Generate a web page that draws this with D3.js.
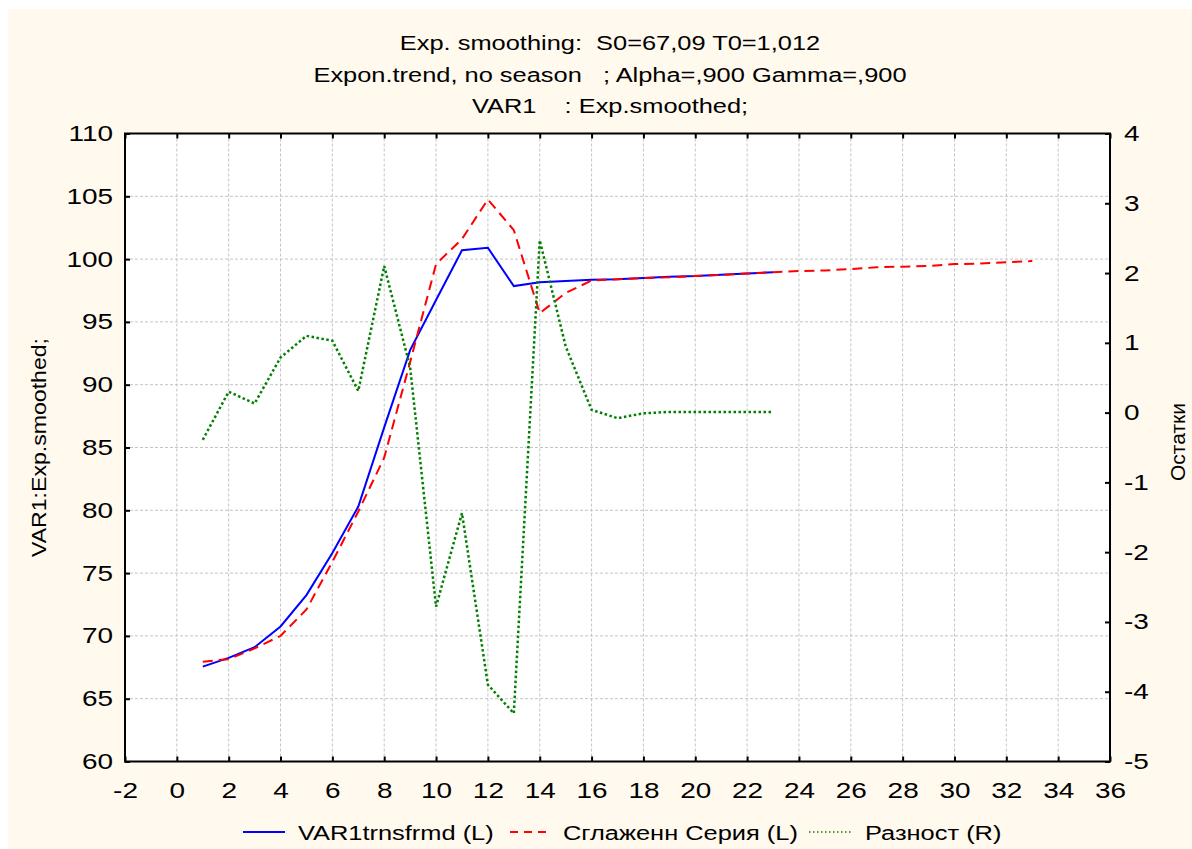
<!DOCTYPE html>
<html>
<head>
<meta charset="utf-8">
<script src="https://cdn.jsdelivr.net/npm/d3@7"></script>
<style>
  body { margin: 0; background: #fff; }
  text { font-family: "Liberation Sans", Arial, sans-serif; fill: #000; white-space: pre; }
</style>
</head>
<body>
<div id="chart"></div>
<script>
/* global d3 */

var titleLines = [
  "Exp. smoothing:  S0=67,09 T0=1,012",
  "Expon.trend, no season   ; Alpha=,900 Gamma=,900",
  "VAR1    : Exp.smoothed;"
];
var leftTitle = "VAR1:Exp.smoothed;";
var rightTitle = "Остатки";
var seriesNames = ["VAR1trnsfrmd (L)", "Сглаженн Серия (L)", "Разност (R)"];

var steps = [1, 2, 3, 4, 5, 6, 7, 8, 9, 10, 11, 12, 13, 14, 15, 16, 17,
  18, 19, 20, 21, 22, 23, 24, 25, 26, 27, 28, 29, 30, 31, 32, 33];

/* VAR1trnsfrmd, left axis, steps 1..23 */
var var1Trnsfrmd = [67.55, 68.25, 69.1, 70.75, 73.25, 76.6, 80.3, 86.6, 92.75,
  96.75, 100.7, 100.9, 97.85, 98.15, 98.25, 98.35, 98.4, 98.5, 98.6, 98.65,
  98.75, 98.85, 98.95];

/* smoothed series, left axis, steps 1..33 */
var smoothed = [67.95, 68.15, 69.0, 70.0, 72.1, 75.9, 79.9, 84.2, 91.8, 99.6,
  101.6, 104.75, 102.3, 95.7, 97.3, 98.3, 98.4, 98.5, 98.55, 98.65, 98.75,
  98.85, 98.95, 99.05, 99.1, 99.2, 99.35, 99.4, 99.45, 99.6, 99.65, 99.75, 99.85];

/* residuals, right axis, steps 1..23 */
var residuals = [-0.39, 0.30, 0.13, 0.79, 1.10, 1.03, 0.31, 2.10, 0.65, -2.78,
  -1.44, -3.90, -4.31, 2.47, 0.95, 0.04, -0.08, -0.01, 0.01, 0.01, 0.01, 0.01, 0.01];

var xTickValues = [-2, 0, 2, 4, 6, 8, 10, 12, 14, 16, 18, 20, 22, 24, 26, 28, 30, 32, 34, 36];
var leftTickValues = [60, 65, 70, 75, 80, 85, 90, 95, 100, 105, 110];
var rightTickValues = [-5, -4, -3, -2, -1, 0, 1, 2, 3, 4];

var W = 1192, H = 849;
var plot = { left: 125, top: 133.5, right: 1110, bottom: 761.5 };
var SX = 1.27; // horizontal stretch of the original font

/* plain hyphen minus, like the original */
var fmt = function(d) { return String(d); };

var svg = d3.select("#chart").append("svg")
  .attr("width", W)
  .attr("height", H);

/* cream page */
svg.append("rect")
  .attr("x", 8).attr("y", 9)
  .attr("width", W - 8).attr("height", H - 9)
  .attr("fill", "#fff9ee");

var x = d3.scaleLinear().domain([-2, 36]).range([plot.left, plot.right]);
var yL = d3.scaleLinear().domain([60, 110]).range([plot.bottom, plot.top]);
var yR = d3.scaleLinear().domain([-5, 4]).range([plot.bottom, plot.top]);

/* plot background */
svg.append("rect")
  .attr("x", plot.left).attr("y", plot.top)
  .attr("width", plot.right - plot.left).attr("height", plot.bottom - plot.top)
  .attr("fill", "#fff");

/* grid */
var grid = svg.append("g")
  .attr("stroke", "#c4c4c4")
  .attr("stroke-width", 1)
  .attr("stroke-dasharray", "3,2");

grid.selectAll(".vg")
  .data(xTickValues.slice(1, -1))
  .enter().append("line")
  .attr("x1", function(d) { return x(d); })
  .attr("x2", function(d) { return x(d); })
  .attr("y1", plot.top).attr("y2", plot.bottom);

grid.selectAll(".hg")
  .data(leftTickValues.slice(1, -1))
  .enter().append("line")
  .attr("y1", function(d) { return yL(d); })
  .attr("y2", function(d) { return yL(d); })
  .attr("x1", plot.left).attr("x2", plot.right);

/* series */
var blueData = var1Trnsfrmd.map(function(v, i) { return [steps[i], v]; });
var redData = smoothed.map(function(v, i) { return [steps[i], v]; });
var greenData = residuals.map(function(v, i) { return [steps[i], v]; });

var lineL = d3.line()
  .x(function(d) { return x(d[0]); })
  .y(function(d) { return yL(d[1]); });
var lineR = d3.line()
  .x(function(d) { return x(d[0]); })
  .y(function(d) { return yR(d[1]); });

svg.append("path")
  .attr("d", lineL(blueData))
  .attr("fill", "none")
  .attr("stroke", "#0000ff")
  .attr("stroke-width", 2);

svg.append("path")
  .attr("d", lineL(redData))
  .attr("fill", "none")
  .attr("stroke", "#ff0000")
  .attr("stroke-width", 2)
  .attr("stroke-dasharray", "10,6");

svg.append("path")
  .attr("d", lineR(greenData))
  .attr("fill", "none")
  .attr("stroke", "#008000")
  .attr("stroke-width", 2.5)
  .attr("stroke-dasharray", "2.5,2.5");

/* axes */
function styleAxis(g) {
  g.select(".domain").remove();
  g.selectAll(".tick line").attr("stroke", "#000").attr("stroke-width", 2);
  g.selectAll(".tick text")
    .style("font-size", "22px")
    .attr("fill", "#000")
    .attr("transform", "scale(" + SX + ",1)");
}

svg.append("g")
  .attr("transform", "translate(0," + plot.bottom + ")")
  .call(d3.axisBottom(x).tickValues(xTickValues).tickSizeInner(-5).tickSizeOuter(0)
    .tickPadding(21).tickFormat(fmt))
  .call(styleAxis);

svg.append("g")
  .attr("transform", "translate(0," + plot.top + ")")
  .call(d3.axisTop(x).tickValues(xTickValues).tickSizeInner(-5).tickSizeOuter(0)
    .tickFormat(""))
  .call(styleAxis);

svg.append("g")
  .attr("transform", "translate(" + plot.left + ",0)")
  .call(d3.axisLeft(yL).tickValues(leftTickValues).tickSizeInner(-5).tickSizeOuter(0)
    .tickPadding(12 / SX).tickFormat(fmt))
  .call(styleAxis);

svg.append("g")
  .attr("transform", "translate(" + plot.right + ",0)")
  .call(d3.axisRight(yR).tickValues(rightTickValues).tickSizeInner(-5).tickSizeOuter(0)
    .tickPadding(14 / SX).tickFormat(fmt))
  .call(styleAxis);

/* frame */
svg.append("rect")
  .attr("x", plot.left).attr("y", plot.top)
  .attr("width", plot.right - plot.left).attr("height", plot.bottom - plot.top)
  .attr("fill", "none")
  .attr("stroke", "#000")
  .attr("stroke-width", 2);

/* title */
var titleBaselines = [50, 82, 113];
svg.selectAll(".title")
  .data(titleLines)
  .enter().append("text")
  .attr("class", "title")
  .attr("text-anchor", "middle")
  .style("font-size", "20px")
  .attr("transform", function(d, i) {
    return "translate(610," + titleBaselines[i] + ") scale(" + SX + ",1)";
  })
  .text(function(d) { return d; });

/* axis titles */
svg.append("text")
  .attr("text-anchor", "middle")
  .style("font-size", "21px")
  .attr("transform", "translate(46," + (plot.top + plot.bottom) / 2 + ") rotate(-90) scale(1.1,1)")
  .text(leftTitle);

svg.append("text")
  .attr("text-anchor", "middle")
  .style("font-size", "21px")
  .attr("transform", "translate(1185,442) rotate(-90)")
  .text(rightTitle);

/* legend */
var legendY = 832;
var legendItems = [
  { name: seriesNames[0], color: "#0000ff", dash: null, width: 2, x0: 243, x1: 285, tx: 298 },
  { name: seriesNames[1], color: "#ff0000", dash: "8,6", width: 2, x0: 510, x1: 549, tx: 563 },
  { name: seriesNames[2], color: "#008000", dash: "1.5,2.5", width: 1.5, x0: 809, x1: 852, tx: 865 }
];

var legend = svg.append("g");
legend.selectAll("line")
  .data(legendItems)
  .enter().append("line")
  .attr("x1", function(d) { return d.x0; })
  .attr("x2", function(d) { return d.x1; })
  .attr("y1", legendY).attr("y2", legendY)
  .attr("stroke", function(d) { return d.color; })
  .attr("stroke-width", function(d) { return d.width; })
  .attr("stroke-dasharray", function(d) { return d.dash; });

legend.selectAll("text")
  .data(legendItems)
  .enter().append("text")
  .style("font-size", "20px")
  .attr("transform", function(d) {
    return "translate(" + d.tx + "," + (legendY + 8) + ") scale(" + SX + ",1)";
  })
  .text(function(d) { return d.name; });
</script>
</body>
</html>
